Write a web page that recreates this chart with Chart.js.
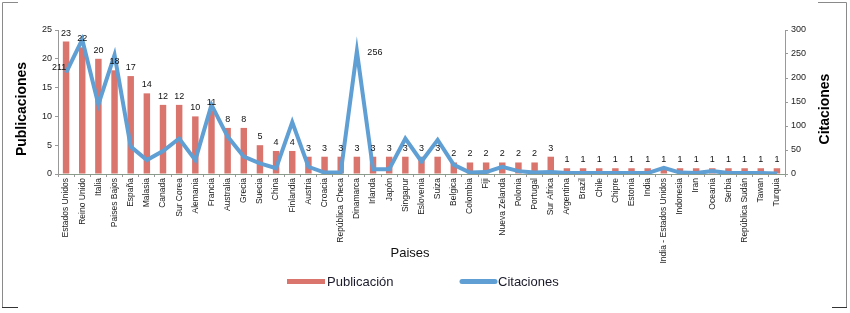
<!DOCTYPE html>
<html>
<head>
<meta charset="utf-8">
<script src="https://cdn.jsdelivr.net/npm/chart.js@4.4.1/dist/chart.umd.min.js"></script>
<style>
  html, body { margin: 0; padding: 0; background: #fff; }
  #wrap { width: 850px; height: 313px; }
</style>
</head>
<body>
<div id="wrap"><canvas id="paisesChart" width="850" height="313"></canvas></div>
<script>
const paises = ["Estados Unidos", "Reino Unido", "Italia", "Paises Bajos", "España", "Malasia", "Canada",
  "Sur Corea", "Alemania", "Francia", "Australia", "Grecia", "Suecia", "China", "Finlandia", "Austria",
  "Croacia", "República Checa", "Dinamarca", "Irlanda", "Japón", "Singapur", "Eslovenia", "Suiza",
  "Belgica", "Colombia", "Fiji", "Nueva Zelanda", "Polonia", "Portugal", "Sur Africa", "Argentina",
  "Brazil", "Chile", "Chipre", "Estonia", "India", "India - Estados Unidos", "Indonesia", "Iran",
  "Oceania", "Serbia", "República Sudán", "Tawan", "Turquia"];

const publicaciones = [23, 22, 20, 18, 17, 14, 12, 12, 10, 11, 8, 8, 5, 4, 4, 3, 3, 3, 3, 3, 3, 3, 3, 3,
  2, 2, 2, 2, 2, 2, 3, 1, 1, 1, 1, 1, 1, 1, 1, 1, 1, 1, 1, 1, 1];

const citaciones = [211, 280, 145, 248, 57, 29, 48, 74, 29, 144, 78, 36, 22, 12, 108, 15, 3, 3, 256, 10,
  10, 74, 26, 71, 19, 3, 4, 15, 6, 3, 4, 2, 2, 2, 2, 2, 2, 13, 3, 2, 6, 2, 2, 2, 1];

// only these citation points carry a label in the original
const citasEtiquetadas = [0, 18];

const FONT = "'Liberation Sans', Arial, sans-serif";
const rojo = "#d9756d";
const azul = "#5f9fd3";

// value labels, axis titles, legend and frame drawn by hand
const etiquetasPlugin = {
  id: "etiquetas",
  afterDatasetsDraw(chart) {
    const ctx = chart.ctx;
    ctx.save();
    ctx.font = "9px " + FONT;
    ctx.fillStyle = "#111";
    ctx.textAlign = "center";
    ctx.textBaseline = "bottom";
    chart.getDatasetMeta(0).data.forEach((bar, i) => {
      ctx.fillText(publicaciones[i], bar.x, bar.y - 4);
    });
    ctx.textBaseline = "middle";
    const lineMeta = chart.getDatasetMeta(1);
    citasEtiquetadas.forEach((i) => {
      const p = lineMeta.data[i];
      const dx = i === 0 ? -7 : 18;
      const dy = i === 0 ? -5 : 1;
      ctx.fillText(citaciones[i], p.x + dx, p.y + dy);
    });
    ctx.restore();
  },
  afterDraw(chart) {
    const ctx = chart.ctx;
    const area = chart.chartArea;
    const midY = (area.top + area.bottom) / 2 + 7;

    // axis titles
    ctx.save();
    ctx.fillStyle = "#000";
    ctx.textAlign = "center";
    ctx.textBaseline = "middle";
    ctx.font = "bold 14px " + FONT;
    ctx.save();
    ctx.translate(22, midY);
    ctx.rotate(-Math.PI / 2);
    ctx.fillText("Publicaciones", 0, 0);
    ctx.restore();
    ctx.save();
    ctx.translate(825, midY);
    ctx.rotate(-Math.PI / 2);
    ctx.fillText("Citaciones", 0, 0);
    ctx.restore();
    ctx.font = "13px " + FONT;
    ctx.fillStyle = "#111";
    ctx.fillText("Paises", 410, 253);
    ctx.restore();

    // legend
    ctx.save();
    ctx.font = "13px " + FONT;
    ctx.fillStyle = "#1a1a2a";
    ctx.textBaseline = "middle";
    ctx.textAlign = "left";
    const ds = chart.data.datasets;
    ctx.fillStyle = ds[0].backgroundColor;
    ctx.fillRect(287, 279, 38, 5);
    ctx.fillStyle = "#1a1a2a";
    ctx.fillText(ds[0].label, 327, 282);
    ctx.strokeStyle = ds[1].borderColor;
    ctx.lineWidth = 5;
    ctx.lineCap = "round";
    ctx.beginPath();
    ctx.moveTo(462, 281.5);
    ctx.lineTo(495, 281.5);
    ctx.stroke();
    ctx.fillText(ds[1].label, 498, 282);
    ctx.restore();

    // outer frame corners like the original
    ctx.save();
    ctx.strokeStyle = "#8a8a8a";
    ctx.lineWidth = 1;
    ctx.beginPath();
    ctx.moveTo(2.5, 308); ctx.lineTo(2.5, 2.5); ctx.lineTo(18, 2.5);
    ctx.moveTo(818, 2.5); ctx.lineTo(846.5, 2.5); ctx.lineTo(846.5, 308);
    ctx.stroke();
    ctx.strokeStyle = "#333";
    ctx.beginPath();
    ctx.moveTo(2, 307.5); ctx.lineTo(18, 307.5);
    ctx.moveTo(832, 307.5); ctx.lineTo(847, 307.5);
    ctx.stroke();
    ctx.restore();
  }
};

new Chart(document.getElementById("paisesChart"), {
  type: "bar",
  data: {
    labels: paises,
    datasets: [
      {
        label: "Publicación",
        data: publicaciones,
        backgroundColor: rojo,
        borderWidth: 0,
        barPercentage: 0.8,
        categoryPercentage: 0.5,
        yAxisID: "y",
        order: 2
      },
      {
        type: "line",
        label: "Citaciones",
        data: citaciones,
        borderColor: azul,
        backgroundColor: azul,
        borderWidth: 4,
        pointRadius: 0,
        tension: 0,
        yAxisID: "y1",
        order: 1
      }
    ]
  },
  options: {
    responsive: false,
    animation: false,
    layout: { padding: { top: 30, left: 8, right: 10, bottom: 48 } },
    plugins: {
      tooltip: { enabled: false },
      legend: { display: false }
    },
    scales: {
      x: {
        grid: { display: true, drawOnChartArea: false, drawTicks: true, tickLength: 3, color: "#999" },
        border: { color: "#8c9c8c" },
        ticks: {
          autoSkip: false,
          maxRotation: 90,
          minRotation: 90,
          padding: 1,
          color: "#222",
          font: { family: FONT, size: 8.5 }
        },
        afterFit(scale) { scale.height = 91; }
      },
      y: {
        position: "left",
        min: 0,
        max: 25,
        grid: { display: true, drawOnChartArea: false, drawTicks: true, tickLength: 3, color: "#999" },
        border: { color: "#999" },
        ticks: { stepSize: 5, color: "#222", font: { family: FONT, size: 9 }, padding: 3 },
        afterFit(scale) { scale.width = 50; }
      },
      y1: {
        position: "right",
        min: 0,
        max: 300,
        grid: { display: true, drawOnChartArea: false, drawTicks: true, tickLength: 3, color: "#999" },
        border: { color: "#999" },
        ticks: { stepSize: 50, color: "#222", font: { family: FONT, size: 9 }, padding: 3 },
        afterFit(scale) { scale.width = 55; }
      }
    }
  },
  plugins: [etiquetasPlugin]
});
</script>
</body>
</html>
